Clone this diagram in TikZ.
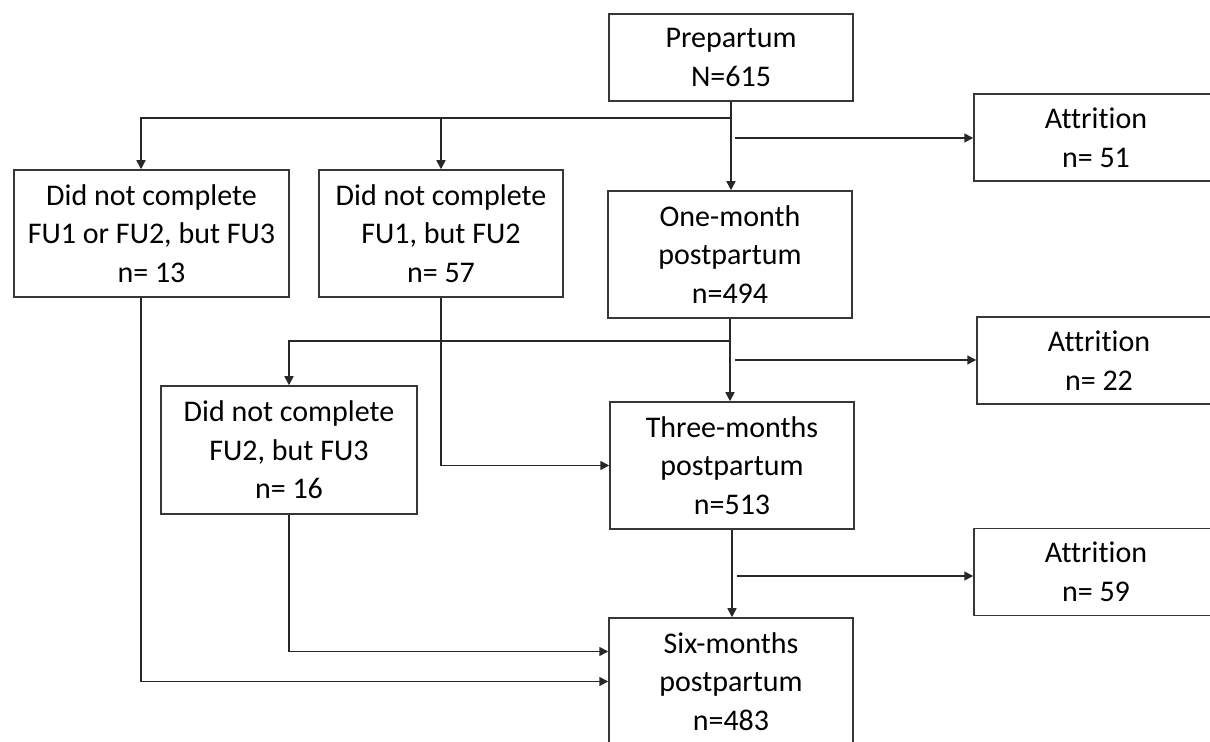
\documentclass[tikz,border=0pt]{standalone}
\usepackage{fontspec}
\setmainfont{Carlito}[Ligatures=NoCommon]
\usetikzlibrary{arrows.meta}
\newcommand\boxfont{\fontsize{15}{19.3}\selectfont}
\definecolor{box_edge}{RGB}{55,55,55}
\definecolor{line_grey}{RGB}{40,40,40}

\begin{document}
\begin{tikzpicture}[->,line width=0.75pt,>={Triangle[length=4.5pt,width=4.5pt]},x=0.5pt,y=-0.5pt]
    \tikzstyle{stage}=[draw=box_edge, rectangle, align=center, inner sep=0pt, font=\boxfont, text=black, minimum width=122pt, minimum height=63.5pt]
    \tikzstyle{stageshort}=[style=stage, minimum height=43.5pt]
    \tikzstyle{missed}=[style=stage, minimum width=128pt, minimum height=64pt]
    \tikzstyle{missedwide}=[style=stage, minimum width=137.5pt]

    \useasboundingbox (0,0) rectangle (1210,742);
    \clip (0,0) rectangle (1210,742);

    \node[stageshort]  (pre)   at (731,57.5)   {Prepartum\\N=615};
    \node[stageshort]  (att1)  at (1096,137.5) {Attrition\\n= 51};
    \node[stage]       (one)   at (730,254.5)  {One-month\\postpartum\\n=494};
    \node[missedwide]  (f13)   at (151.5,233.5){Did not complete\\FU1 or FU2, but FU3\\n= 13};
    \node[stage]       (f57)   at (441,233.5)  {Did not complete\\FU1, but FU2\\n= 57};
    \node[stageshort]  (att2)  at (1099,360.5) {Attrition\\n= 22};
    \node[missed]      (f16)   at (289,450)    {Did not complete\\FU2, but FU3\\n= 16};
    \node[stage]       (three) at (732,465.5)  {Three-months\\postpartum\\n=513};
    \node[stageshort]  (att3)  at (1096,572)   {Attrition\\n= 59};
    \node[stage]       (six)   at (731,681.5)  {Six-months\\postpartum\\n=483};

    \coordinate (j1) at (731,118);
    \coordinate (a1) at (735,138);
    \coordinate (j2) at (731,341);
    \coordinate (a2) at (735,360);
    \coordinate (a3) at (737,576);

    \begin{scope}[draw=line_grey]
    \draw (pre.south) -- (pre.south |- one.north);
    \draw (j1) -| ([xshift=-5.25pt]f13.north);
    \draw (j1 -| f57.north) -- (f57.north);
    \draw (a1) -- (a1 -| att1.west);

    \draw (one.south) -- (one.south |- three.north);
    \draw (j2) -| (f16.north);
    \draw (a2) -- (a2 -| att2.west);
    \draw (f57.south) |- (three.west);

    \draw (three.south) -- (three.south |- six.north);
    \draw (a3) -- (a3 -| att3.west);
    \draw (f16.south) |- ([yshift=15pt]six.west);
    \draw ([xshift=-5.25pt]f13.south) |- (six.west);
    \end{scope}
\end{tikzpicture}
\end{document}
